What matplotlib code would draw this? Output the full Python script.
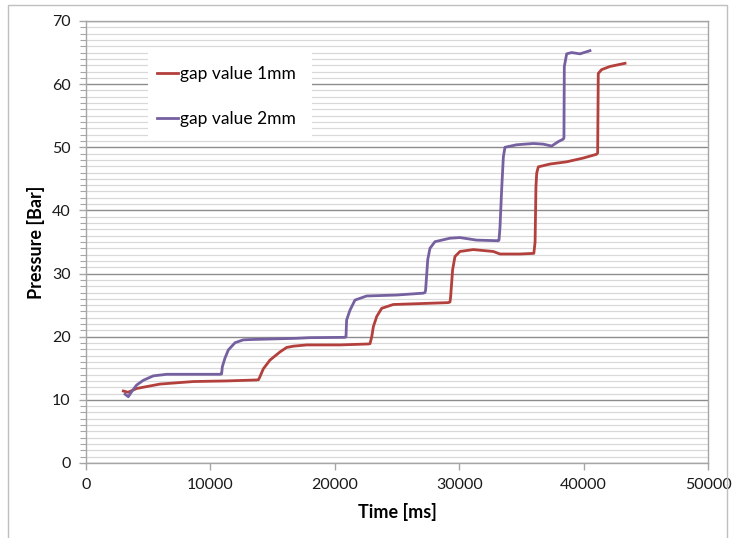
import matplotlib
matplotlib.use('Agg')
import matplotlib.pyplot as plt
from matplotlib.patches import Rectangle
from matplotlib.ticker import MultipleLocator

# Pressure traces, time in ms, pressure in bar
gap1_time = [3000, 3380, 4070, 5950, 8630, 11310, 13720, 13870, 13990, 14250, 14790, 15600,
             16130, 16670, 17740, 20420, 22700, 22830, 22970, 23100, 23370, 23770, 24700,
             27650, 29120, 29260, 29310, 29470, 29660, 30060, 31130, 32740, 33280, 34890,
             36000, 36100, 36170, 36230, 36360, 37300, 38640, 39980, 41050, 41130, 41180,
             41450, 42120, 43330]
gap1_pressure = [11.4, 11.2, 11.8, 12.5, 12.9, 13.0, 13.15, 13.2, 13.7, 14.9, 16.3, 17.6,
                 18.3, 18.5, 18.7, 18.7, 18.85, 18.9, 20.0, 21.6, 23.2, 24.5, 25.1,
                 25.3, 25.4, 25.5, 26.3, 30.6, 32.7, 33.5, 33.8, 33.5, 33.1, 33.1,
                 33.2, 35.0, 43.8, 45.9, 46.9, 47.35, 47.7, 48.3, 48.9, 49.1, 61.7,
                 62.3, 62.8, 63.3]

gap2_time = [3140, 3400, 3670, 4070, 4610, 5410, 6490, 10770, 10900, 10960, 11170, 11440,
             11980, 12640, 13180, 16940, 18000, 20820, 20900, 20950, 21220, 21620, 22560,
             24970, 27110, 27250, 27300, 27470, 27650, 28050, 29260, 30060, 31400, 33140,
             33200, 33280, 33410, 33550, 33680, 34620, 35960, 36760, 37430, 37970, 38370,
             38420, 38450, 38640, 39040, 39710, 40510]
gap2_pressure = [10.9, 10.5, 11.3, 12.35, 13.1, 13.8, 14.05, 14.05, 14.1, 15.25, 16.6, 17.9,
                 19.05, 19.5, 19.55, 19.75, 19.85, 19.9, 20.0, 22.65, 24.2, 25.8, 26.45,
                 26.6, 26.9, 27.0, 27.4, 32.2, 34.0, 35.05, 35.6, 35.7, 35.3, 35.2,
                 35.3, 37.4, 43.2, 48.5, 50.0, 50.4, 50.6, 50.5, 50.2, 50.9, 51.3,
                 51.5, 62.8, 64.8, 65.0, 64.8, 65.3]

series_labels = ['gap value 1mm', 'gap value 2mm']
x_ticks = [0, 10000, 20000, 30000, 40000, 50000]
y_ticks = [0, 10, 20, 30, 40, 50, 60, 70]

plt.rcParams['font.family'] = ['Lato', 'DejaVu Sans']

fig = plt.figure(figsize=(7.36, 5.38), dpi=100)
ax = fig.add_axes([86 / 736, 1 - 463 / 538, 622 / 736, 442 / 538])

# outer chart frame
fig.patches.append(Rectangle((8 / 736, -0.01), 719 / 736, 1 - 5 / 538 + 0.01,
                             transform=fig.transFigure, fill=False,
                             edgecolor='#bfbfbf', linewidth=1.0))

ax.plot(gap1_time, gap1_pressure, color='#b3403c', lw=2.0, label=series_labels[0])
ax.plot(gap2_time, gap2_pressure, color='#7560a0', lw=2.0, label=series_labels[1])

ax.set_xlim(0, 50000)
ax.set_ylim(0, 70)
ax.set_xticks(x_ticks)
ax.set_yticks(y_ticks)
ax.yaxis.set_minor_locator(MultipleLocator(1))

ax.grid(which='major', axis='y', color='#8c8c8c', lw=1.0)
ax.grid(which='minor', axis='y', color='#d9d9d9', lw=0.9)
ax.set_axisbelow(True)

for side in ['left', 'bottom', 'right', 'top']:
    ax.spines[side].set_color('#a6a6a6')
    ax.spines[side].set_linewidth(1.0)

ax.tick_params(axis='both', which='major', labelsize=11.5, colors='#a6a6a6',
               labelcolor='#1a1a1a', length=5, width=1.0, direction='out', pad=6)
ax.tick_params(axis='y', which='minor', colors='#a6a6a6', length=4, width=0.8, direction='out')

ax.set_xlabel('Time [ms]', fontsize=13, fontweight='bold', labelpad=8)
ax.set_ylabel('Pressure [Bar]', fontsize=13, fontweight='bold', labelpad=5)

# white background behind the legend entries
ax.add_patch(Rectangle((0.0997, 0.735), 0.264, 0.204, transform=ax.transAxes,
                       facecolor='white', edgecolor='none', zorder=2.5))

leg = ax.legend(loc='upper left', bbox_to_anchor=(0.114, 0.898), fontsize=12.5,
                frameon=False, handlelength=1.2, handletextpad=0.15,
                labelspacing=1.68, borderpad=0, borderaxespad=0)

fig.savefig('out.png', dpi=100)
